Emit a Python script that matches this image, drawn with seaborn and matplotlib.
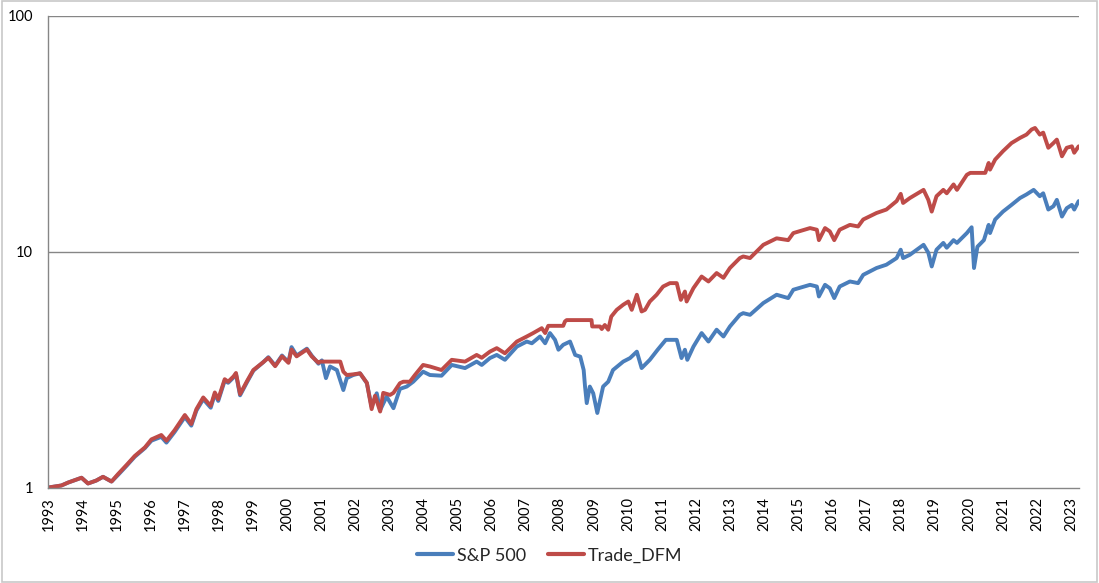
import matplotlib
matplotlib.use("Agg")
import matplotlib.pyplot as plt
import seaborn as sns
import pandas as pd
from matplotlib.patches import Rectangle

# ---- data (decimal years, growth of $1) ----
sp_years = [1993.00, 1993.20, 1993.38, 1993.58, 1993.97, 1994.16, 1994.40, 1994.60, 1994.85, 1995.04,
            1995.30, 1995.53, 1995.83, 1996.02, 1996.31, 1996.46, 1996.70, 1997.00, 1997.19, 1997.34,
            1997.54, 1997.76, 1997.88, 1997.98, 1998.17, 1998.27, 1998.43, 1998.50, 1998.62, 1998.82,
            1999.01, 1999.30, 1999.45, 1999.65, 1999.85, 2000.04, 2000.13, 2000.28, 2000.58, 2000.72,
            2000.92, 2001.02, 2001.14, 2001.26, 2001.46, 2001.65, 2001.75, 2001.94, 2002.14, 2002.34,
            2002.48, 2002.63, 2002.73, 2002.92, 2003.12, 2003.31, 2003.51, 2003.70, 2003.99, 2004.19,
            2004.53, 2004.83, 2005.22, 2005.56, 2005.71, 2005.95, 2006.15, 2006.39, 2006.74, 2007.03,
            2007.18, 2007.42, 2007.57, 2007.71, 2007.86, 2007.96, 2008.10, 2008.30, 2008.45, 2008.60,
            2008.70, 2008.74, 2008.79, 2008.88, 2008.98, 2009.10, 2009.27, 2009.42, 2009.56, 2009.86,
            2010.06, 2010.26, 2010.40, 2010.64, 2010.87, 2011.11, 2011.43, 2011.57, 2011.67, 2011.74,
            2011.92, 2012.16, 2012.36, 2012.60, 2012.80, 2012.99, 2013.28, 2013.38, 2013.58, 2013.97,
            2014.36, 2014.70, 2014.85, 2015.34, 2015.54, 2015.60, 2015.78, 2015.92, 2016.05, 2016.21,
            2016.51, 2016.75, 2016.90, 2017.29, 2017.58, 2017.88, 2018.00, 2018.07, 2018.27, 2018.67,
            2018.81, 2018.91, 2019.05, 2019.25, 2019.35, 2019.55, 2019.65, 2019.94, 2020.08, 2020.15,
            2020.25, 2020.44, 2020.58, 2020.62, 2020.77, 2021.00, 2021.25, 2021.50, 2021.69, 2021.90,
            2022.08, 2022.18, 2022.33, 2022.48, 2022.58, 2022.73, 2022.87, 2023.02, 2023.09, 2023.22]
sp_values = [1.00, 1.01, 1.02, 1.05, 1.10, 1.04, 1.07, 1.11, 1.06, 1.13,
             1.24, 1.35, 1.47, 1.58, 1.64, 1.55, 1.72, 1.99, 1.83, 2.12,
             2.37, 2.18, 2.49, 2.33, 2.84, 2.78, 2.93, 3.03, 2.46, 2.79,
             3.13, 3.40, 3.57, 3.29, 3.63, 3.40, 3.94, 3.63, 3.88, 3.63,
             3.35, 3.46, 2.91, 3.26, 3.15, 2.59, 2.91, 3.00, 3.05, 2.77,
             2.20, 2.51, 2.13, 2.43, 2.17, 2.62, 2.68, 2.81, 3.10, 3.00,
             2.98, 3.31, 3.21, 3.42, 3.31, 3.54, 3.65, 3.48, 3.96, 4.16,
             4.09, 4.37, 4.09, 4.52, 4.23, 3.84, 4.03, 4.16, 3.65, 3.59,
             3.15, 2.68, 2.28, 2.68, 2.51, 2.07, 2.68, 2.81, 3.15, 3.42,
             3.54, 3.77, 3.21, 3.48, 3.84, 4.23, 4.23, 3.54, 3.84, 3.48,
             3.96, 4.52, 4.16, 4.67, 4.37, 4.82, 5.40, 5.49, 5.40, 6.06,
             6.57, 6.36, 6.90, 7.24, 7.12, 6.46, 7.24, 7.00, 6.36, 7.12,
             7.48, 7.36, 7.98, 8.53, 8.81, 9.40, 10.2, 9.40, 9.71, 10.7,
             9.90, 8.66, 10.2, 10.9, 10.4, 11.2, 10.9, 12.0, 12.7, 8.53,
             10.5, 11.2, 13.0, 12.0, 13.7, 14.8, 15.8, 16.9, 17.5, 18.3,
             17.2, 17.7, 15.1, 15.6, 16.6, 14.1, 15.3, 15.8, 15.1, 16.4]

dfm_years = [1993.00, 1993.20, 1993.38, 1993.58, 1993.97, 1994.16, 1994.40, 1994.60, 1994.85, 1995.04,
             1995.30, 1995.53, 1995.83, 1996.02, 1996.31, 1996.46, 1996.70, 1997.00, 1997.19, 1997.34,
             1997.54, 1997.76, 1997.88, 1997.98, 1998.17, 1998.27, 1998.43, 1998.50, 1998.62, 1998.82,
             1999.01, 1999.30, 1999.45, 1999.65, 1999.85, 2000.04, 2000.13, 2000.28, 2000.58, 2000.72,
             2000.92, 2000.97, 2001.56, 2001.65, 2001.75, 2001.94, 2002.14, 2002.34, 2002.48, 2002.58,
             2002.73, 2002.82, 2003.02, 2003.12, 2003.31, 2003.41, 2003.60, 2003.75, 2003.99, 2004.19,
             2004.53, 2004.83, 2005.22, 2005.56, 2005.71, 2005.95, 2006.15, 2006.39, 2006.74, 2007.03,
             2007.22, 2007.47, 2007.57, 2007.66, 2008.10, 2008.15, 2008.20, 2008.93, 2008.95, 2009.18,
             2009.23, 2009.32, 2009.42, 2009.51, 2009.67, 2009.86, 2010.01, 2010.11, 2010.26, 2010.40,
             2010.50, 2010.64, 2010.84, 2011.03, 2011.23, 2011.43, 2011.55, 2011.67, 2011.72, 2011.92,
             2012.16, 2012.36, 2012.60, 2012.80, 2012.99, 2013.28, 2013.38, 2013.58, 2013.97, 2014.36,
             2014.70, 2014.85, 2015.34, 2015.54, 2015.60, 2015.78, 2015.92, 2016.05, 2016.21, 2016.51,
             2016.75, 2016.90, 2017.29, 2017.58, 2017.88, 2018.00, 2018.07, 2018.27, 2018.67, 2018.81,
             2018.91, 2019.05, 2019.25, 2019.35, 2019.55, 2019.65, 2019.94, 2020.04, 2020.48, 2020.58,
             2020.62, 2020.77, 2021.00, 2021.25, 2021.50, 2021.69, 2021.84, 2021.94, 2022.08, 2022.18,
             2022.33, 2022.48, 2022.58, 2022.73, 2022.87, 2023.02, 2023.09, 2023.22]
dfm_values = [1.00, 1.01, 1.02, 1.05, 1.10, 1.04, 1.07, 1.11, 1.06, 1.14,
              1.25, 1.36, 1.48, 1.60, 1.67, 1.58, 1.75, 2.03, 1.86, 2.15,
              2.41, 2.22, 2.53, 2.37, 2.88, 2.81, 2.96, 3.06, 2.49, 2.82,
              3.15, 3.40, 3.55, 3.27, 3.60, 3.38, 3.85, 3.60, 3.85, 3.60,
              3.38, 3.42, 3.42, 3.10, 3.00, 3.02, 3.05, 2.78, 2.15, 2.45,
              2.10, 2.52, 2.47, 2.52, 2.77, 2.81, 2.81, 3.00, 3.31, 3.26,
              3.15, 3.48, 3.42, 3.65, 3.55, 3.77, 3.90, 3.71, 4.16, 4.37,
              4.52, 4.74, 4.52, 4.85, 4.85, 5.06, 5.13, 5.13, 4.82, 4.82,
              4.70, 4.89, 4.67, 5.31, 5.67, 5.96, 6.15, 5.67, 6.57, 5.58,
              5.67, 6.15, 6.57, 7.12, 7.36, 7.36, 6.25, 6.78, 6.15, 7.01,
              7.85, 7.48, 8.12, 7.75, 8.53, 9.40, 9.55, 9.40, 10.7, 11.4,
              11.2, 12.0, 12.6, 12.4, 11.2, 12.6, 12.2, 11.2, 12.4, 13.0,
              12.8, 13.7, 14.6, 15.1, 16.4, 17.6, 16.1, 16.9, 18.3, 16.6,
              14.8, 17.2, 18.3, 17.7, 19.3, 18.3, 21.2, 21.6, 21.6, 23.8,
              22.3, 24.6, 26.7, 28.9, 30.4, 31.4, 33.0, 33.5, 31.4, 32.0,
              27.6, 28.9, 29.9, 25.4, 27.6, 28.0, 26.3, 28.0]

series_names = ["S&P 500", "Trade_DFM"]
year_ticks = list(range(1993, 2024))
y_ticks = [1, 10, 100]
y_tick_labels = ["1", "10", "100"]

# ---- style ----
sns.set_style("white")
plt.rcParams["font.family"] = ["Lato", "DejaVu Sans"]

BLUE = "#4A7EBB"
RED = "#BE4B48"
GRAY = "#868686"

fig = plt.figure(figsize=(10.99, 5.83), dpi=100)
ax = fig.add_axes([0.0441, 0.1638, 0.9377, 0.8088])

sp_df = pd.DataFrame({"year": sp_years, "value": sp_values})
dfm_df = pd.DataFrame({"year": dfm_years, "value": dfm_values})

sns.lineplot(data=sp_df, x="year", y="value", ax=ax, color=BLUE, linewidth=2.8,
             label=series_names[0], estimator=None, sort=False)
sns.lineplot(data=dfm_df, x="year", y="value", ax=ax, color=RED, linewidth=2.8,
             label=series_names[1], estimator=None, sort=False)

ax.set_yscale("log")
ax.set_ylim(1, 100)
ax.set_xlim(1993.0, 2023.23)
ax.set_yticks(y_ticks)
ax.set_yticklabels(y_tick_labels)
ax.yaxis.set_minor_locator(matplotlib.ticker.NullLocator())
ax.set_xticks(year_ticks)
ax.set_xticklabels([str(y) for y in year_ticks], rotation=90)
ax.set_xlabel("")
ax.set_ylabel("")

for y in [10, 100]:
    ax.axhline(y, color=GRAY, linewidth=1.0, zorder=0.5)

for side in ["top", "right"]:
    ax.spines[side].set_visible(False)
for side in ["left", "bottom"]:
    ax.spines[side].set_color(GRAY)
    ax.spines[side].set_linewidth(1.0)

ax.tick_params(axis="both", which="major", direction="out", length=4, width=1,
               color=GRAY, labelsize=10.5, labelcolor="black")
ax.tick_params(axis="x", pad=3)
ax.tick_params(axis="y", pad=7)

leg = ax.legend(loc="center", bbox_to_anchor=(0.5, 0.047), bbox_transform=fig.transFigure,
                ncol=2, frameon=False, fontsize=13, handlelength=2.0, columnspacing=1.2,
                handletextpad=0.2)
for line in leg.get_lines():
    line.set_linewidth(3.0)

fig.patches.append(Rectangle((0.0015, 0.002), 0.997, 0.996, transform=fig.transFigure,
                             fill=False, edgecolor="#C8C8C8", linewidth=1.2))

fig.savefig("out.png", dpi=100)
